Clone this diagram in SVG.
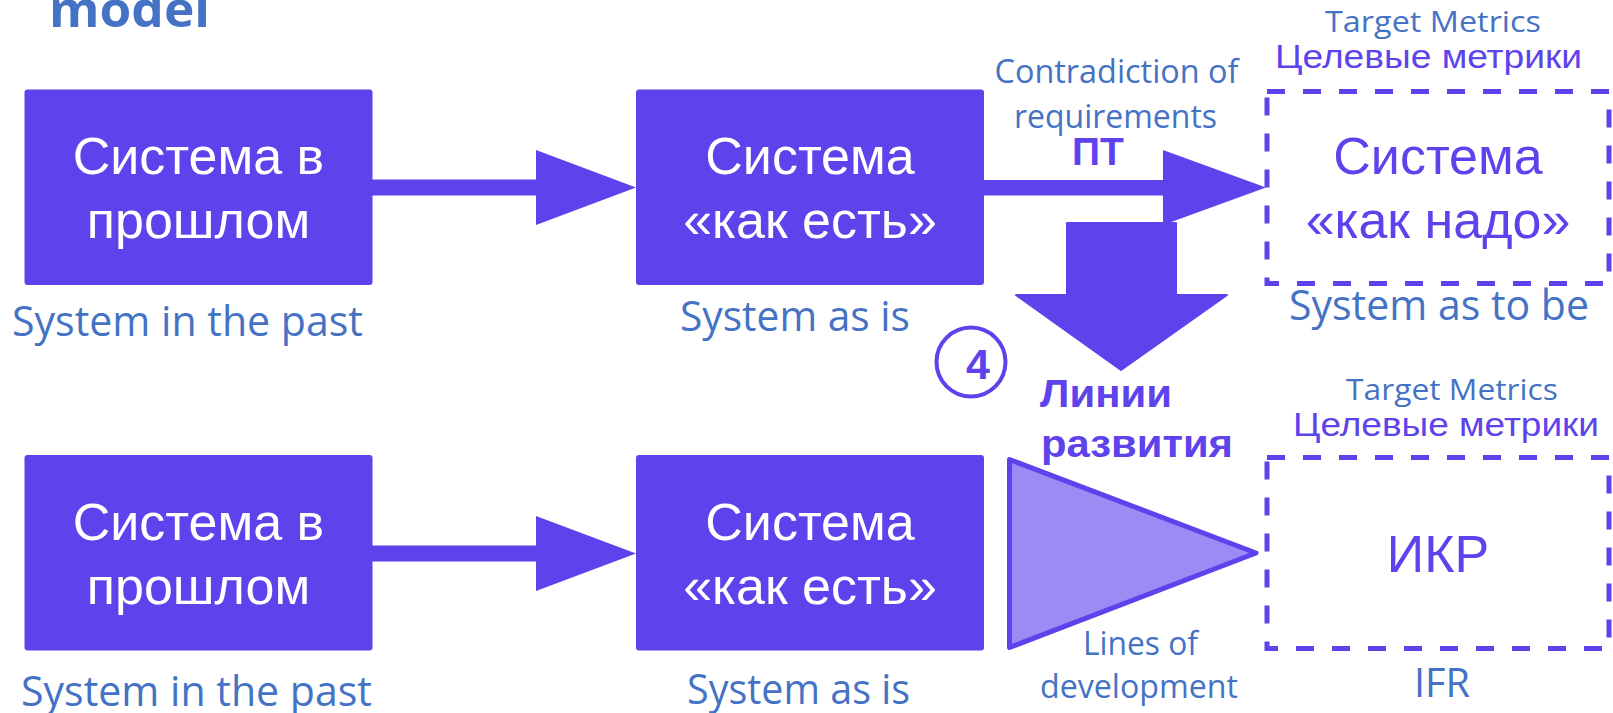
<svg xmlns="http://www.w3.org/2000/svg" width="1613" height="713" viewBox="0 0 1613 713">
<style>
.box{fill:#5E43EC}
.dash{fill:none;stroke:#5E43EC;stroke-width:5;stroke-dasharray:18 18}
.conn{fill:#5E43EC}
.w{font-family:"Liberation Sans",Arial,sans-serif;font-size:52px;fill:#fff;text-anchor:middle}
.p{font-family:"Liberation Sans",Arial,sans-serif;font-size:52px;fill:#5E43EC;text-anchor:middle}
.en{font-family:"Open Sans",sans-serif;fill:#4472C4;text-anchor:middle}
.ru{font-family:"Liberation Sans",Arial,sans-serif;font-size:34px;fill:#5E43EC;text-anchor:middle}
.b{font-family:"Liberation Sans",Arial,sans-serif;font-weight:bold;fill:#5E43EC}
</style>
<text x="49" y="27" font-family="Open Sans,sans-serif" font-weight="bold" font-size="48" fill="#4472C4" textLength="161" lengthAdjust="spacingAndGlyphs">model</text>

<g id="connectors">
<polygon class="conn" points="372,179.5 536,179.5 536,150 636,187.5 536,225 536,195.5 372,195.5"/>
<polygon class="conn" points="372,545.5 536,545.5 536,516 636,553.5 536,591 536,561.5 372,561.5"/>
<polygon class="conn" points="984,180 1163,180 1163,150 1266,187.5 1163,225 1163,195.5 984,195.5"/>
<polygon class="conn" stroke="#5E43EC" stroke-width="2" stroke-linejoin="round" points="1067,223 1176,223 1176,295 1227,295 1121,370 1016,295 1067,295"/>
<polygon id="lines-triangle" fill="#9C8BF4" stroke="#5E43EC" stroke-width="5" stroke-linejoin="round" points="1009.5,459.5 1256,553 1009.5,647.5"/>
</g>

<g id="past-top">
<rect class="box" x="24.5" y="89.5" width="348" height="195.5" rx="3"/>
<text class="w" x="198.5" y="174">Система в</text>
<text class="w" x="198.5" y="238">прошлом</text>
<text class="en" x="187.5" y="336" font-size="42" textLength="351" lengthAdjust="spacingAndGlyphs">System in the past</text>
</g>
<g id="asis-top">
<rect class="box" x="636" y="89.5" width="348" height="195.5" rx="3"/>
<text class="w" x="810" y="174">Система</text>
<text class="w" x="810" y="238">«как есть»</text>
<text class="en" x="795" y="330.5" font-size="42" textLength="230" lengthAdjust="spacingAndGlyphs">System as is</text>
</g>
<g id="tobe-top">
<rect class="dash" x="1267" y="91.5" width="342" height="192"/>
<text class="p" x="1438" y="174">Система</text>
<text class="p" x="1438" y="238">«как надо»</text>
<text class="en" x="1433" y="32" font-size="30" textLength="216" lengthAdjust="spacingAndGlyphs">Target Metrics</text>
<text class="ru" x="1428.5" y="68" textLength="307" lengthAdjust="spacingAndGlyphs">Целевые метрики</text>
<text class="en" x="1439" y="320" font-size="42" textLength="300" lengthAdjust="spacingAndGlyphs">System as to be</text>
</g>
<g id="contradiction-label">
<text class="en" x="1116.5" y="83" font-size="32" textLength="244" lengthAdjust="spacingAndGlyphs">Contradiction of</text>
<text class="en" x="1115.5" y="128" font-size="32" textLength="203" lengthAdjust="spacingAndGlyphs">requirements</text>
<text class="b" x="1098" y="165" font-size="39" text-anchor="middle">ПТ</text>
</g>
<g id="step-4">
<circle cx="971" cy="362" r="34.5" fill="none" stroke="#5E43EC" stroke-width="4"/>
<text class="b" x="978" y="379" font-size="43" text-anchor="middle">4</text>
</g>
<g id="lines-label">
<text class="b" x="1040" y="407" font-size="39" textLength="132" lengthAdjust="spacingAndGlyphs">Линии</text>
<text class="b" x="1041" y="456.5" font-size="39" textLength="192" lengthAdjust="spacingAndGlyphs">развития</text>
<text class="en" x="1140.5" y="655" font-size="32" textLength="115" lengthAdjust="spacingAndGlyphs">Lines of</text>
<text class="en" x="1139" y="698" font-size="32" textLength="198" lengthAdjust="spacingAndGlyphs">development</text>
</g>
<g id="past-bottom">
<rect class="box" x="24.5" y="455" width="348" height="195.5" rx="3"/>
<text class="w" x="198.5" y="540">Система в</text>
<text class="w" x="198.5" y="604">прошлом</text>
<text class="en" x="196.5" y="706" font-size="42" textLength="351" lengthAdjust="spacingAndGlyphs">System in the past</text>
</g>
<g id="asis-bottom">
<rect class="box" x="636" y="455" width="348" height="195.5" rx="3"/>
<text class="w" x="810" y="540">Система</text>
<text class="w" x="810" y="604">«как есть»</text>
<text class="en" x="798.5" y="704" font-size="42" textLength="223" lengthAdjust="spacingAndGlyphs">System as is</text>
</g>
<g id="ifr-bottom">
<rect class="dash" x="1267" y="457.5" width="342" height="191"/>
<text class="p" x="1438" y="572">ИКР</text>
<text class="en" x="1452" y="400" font-size="30" textLength="212" lengthAdjust="spacingAndGlyphs">Target Metrics</text>
<text class="ru" x="1446" y="436" textLength="306" lengthAdjust="spacingAndGlyphs">Целевые метрики</text>
<text class="en" x="1442" y="697" font-size="40" textLength="56" lengthAdjust="spacingAndGlyphs">IFR</text>
</g>
</svg>
